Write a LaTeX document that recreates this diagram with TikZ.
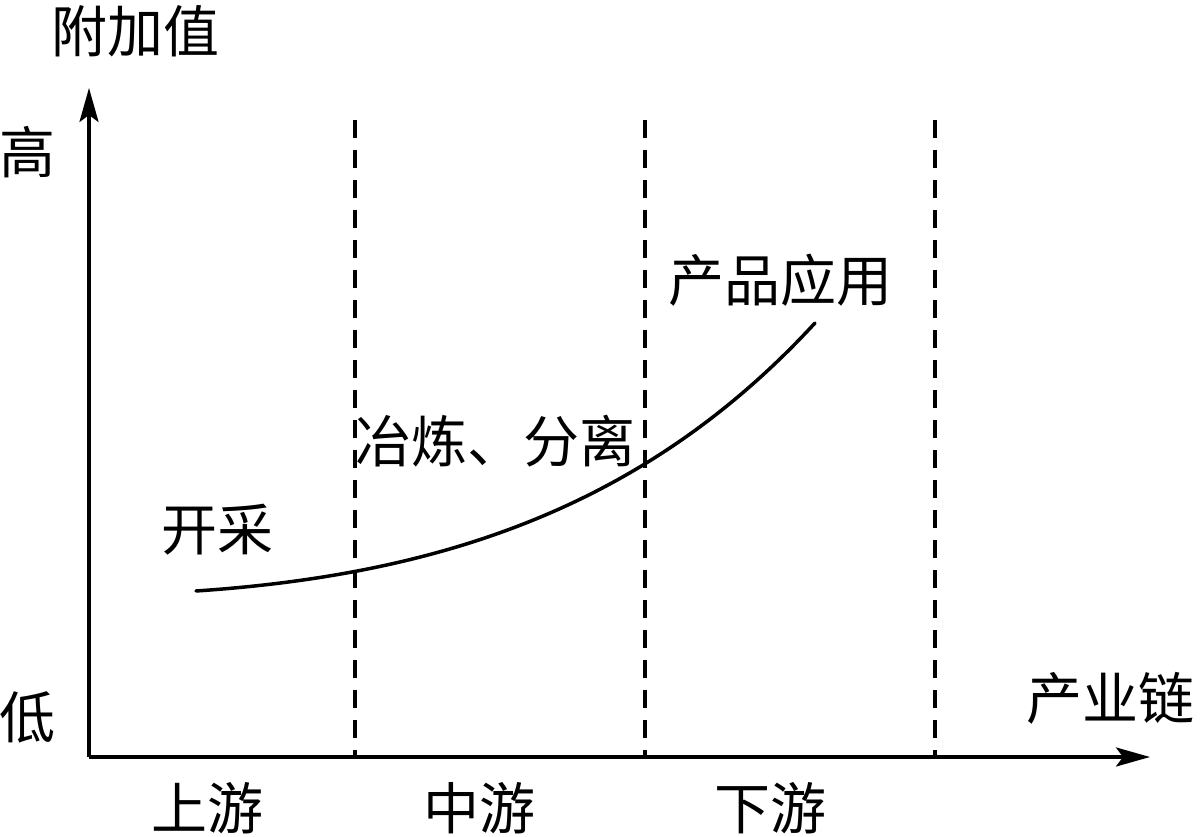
\documentclass[tikz,border=0pt]{standalone}
\usepackage{fontspec}
\setmainfont{Noto Sans CJK SC}
\usetikzlibrary{arrows.meta}
\begin{document}
\begin{tikzpicture}[x=1pt,y=-1pt,
  axis/.style={line width=3.5pt,-{Stealth[length=34pt,width=19pt,inset=7pt]}},
  divider/.style={line width=3.5pt,dash pattern=on 18pt off 12pt},
  curve/.style={line width=3.5pt,line cap=round},
  lbl/.style={inner sep=0pt,font=\fontsize{56}{60}\selectfont}]
\useasboundingbox (0,0) rectangle (1200,837);
\coordinate (O) at (89,757);
\coordinate (ytip) at (89,88);
\coordinate (xtip) at (1150,757);
\draw[axis] (O) -- (ytip);
\draw[axis] (O) -- (xtip);
\foreach \x/\n in {355/a,645/b,935/c}{
  \coordinate (t\n) at (\x,120);
  \coordinate (b\n) at (\x,757);
  \draw[divider] (t\n) -- (b\n);
}
\coordinate (cs) at (196,591);
\coordinate (ce) at (815,323);
\draw[curve] (cs) .. controls (450,574) and (650,502) .. (ce);
\node[lbl] (yl) at (135,31) {附加值};
\node[lbl] (hi) at (27,152) {高};
\node[lbl] (lo) at (27,717) {低};
\node[lbl] (xl) at (1110,698) {产业链};
\node[lbl] (up) at (207,808) {上游};
\node[lbl] (mid) at (479,808) {中游};
\node[lbl] (down) at (770,808) {下游};
\node[lbl] (k) at (217,530) {开采};
\node[lbl] (y) at (495,441) {冶炼、分离};
\node[lbl] (p) at (780,280) {产品应用};
\end{tikzpicture}
\end{document}
